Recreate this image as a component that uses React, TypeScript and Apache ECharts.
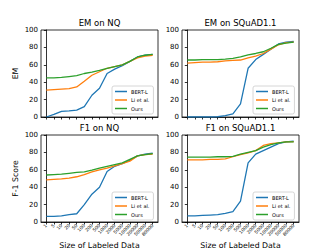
import React, { useEffect, useRef } from "react";
import * as echarts from "echarts";

const xLabels = ["1", "5", "10", "20", "50", "100", "200", "500", "1000", "2000", "5000", "10000", "20000", "50000", "80000"];
const seriesNames = ["BERT-L", "Li et al.", "Ours"];
const panelTitles = ["EM on NQ", "EM on SQuAD1.1", "F1 on NQ", "F1 on SQuAD1.1"];

const emNqBert = [0, 3, 6.5, 7, 8, 12, 25, 33, 50, 55, 59, 64, 69, 71, 72];
const emNqLi = [31, 31.5, 32, 32.5, 34.5, 41, 48, 52, 56, 58, 60, 64, 68, 70, 71];
const emNqOurs = [45, 45, 45.5, 46.5, 47.5, 50, 51.5, 53.5, 56, 58, 60, 64, 69, 71, 72];

const emSqBert = [0, 0, 0, 0, 0.3, 1.5, 3.5, 15, 56, 66, 72, 78, 84, 86, 87];
const emSqLi = [62, 62.5, 63, 63, 63.5, 64.5, 65, 65.5, 68, 70, 73, 78, 83, 85.5, 86];
const emSqOurs = [65.5, 65.5, 66, 66, 66, 66.5, 67.5, 69, 71.5, 73, 75, 79, 83.5, 85, 86];

const f1NqBert = [6.5, 6.5, 7, 8.5, 9.5, 20, 32, 40, 58, 64, 67, 71, 76, 78, 79];
const f1NqLi = [48.5, 49, 49.5, 50.5, 52, 54.5, 57.5, 60, 62, 64.5, 67, 70, 76, 77.5, 78];
const f1NqOurs = [54, 54.5, 55, 56, 57, 57.5, 59.5, 62, 64, 66, 68, 72, 76, 77.5, 78.5];

const f1SqBert = [7, 7, 7.5, 8, 8.5, 10, 12, 24, 68, 78, 82, 86, 90, 92, 93];
const f1SqLi = [71.5, 71.5, 71.5, 72, 72, 72.5, 75, 77.5, 79.5, 82, 88, 90, 91, 92, 92.5];
const f1SqOurs = [74.5, 74.5, 74.5, 74.5, 75, 75, 75.5, 78, 80, 82, 86, 89, 91, 92, 92];

const panelData = [
  [emNqBert, emNqLi, emNqOurs],
  [emSqBert, emSqLi, emSqOurs],
  [f1NqBert, f1NqLi, f1NqOurs],
  [f1SqBert, f1SqLi, f1SqOurs],
];

const colors = ["#1f77b4", "#ff7f0e", "#2ca02c"];
const FONT = "DejaVu Sans";

const grids = [
  { left: 41, top: 30, width: 117, height: 87 },
  { left: 182, top: 30, width: 117, height: 87 },
  { left: 41, top: 135, width: 117, height: 88 },
  { left: 182, top: 135, width: 117, height: 88 },
];

export default function App() {
  const ref = useRef<HTMLDivElement>(null);
  useEffect(() => {
    if (!ref.current) return;
    const chart = echarts.init(ref.current, null, { renderer: "svg" });
    const idx = xLabels.map((_, i) => i);
    const option: any = {
      animation: false,
      textStyle: { fontFamily: FONT },
      title: panelTitles.map((t, i) => ({
        text: t,
        left: grids[i].left + grids[i].width / 2,
        top: i < 2 ? 18.5 : 123.5,
        padding: 0,
        textAlign: "center",
        textStyle: { fontFamily: FONT, fontSize: 8.5, fontWeight: "normal", color: "#000" },
      })),
      grid: grids.map((g) => ({ ...g, show: true, borderColor: "#000", borderWidth: 0.8, containLabel: false })),
      legend: grids.map((g) => ({
        data: seriesNames,
        orient: "vertical",
        left: g.left + g.width - 46,
        top: g.top + g.height - 31,
        icon: "rect",
        itemWidth: 12,
        itemHeight: 1.5,
        itemGap: 3.5,
        padding: [3, 4, 3, 3],
        borderColor: "#ccc",
        borderWidth: 0.8,
        borderRadius: 2,
        backgroundColor: "rgba(255,255,255,0.8)",
        textStyle: { fontFamily: FONT, fontSize: 5, color: "#000", padding: [0, 0, 0, -1] },
      })),
      xAxis: grids.map((_, i) => ({
        type: "value",
        gridIndex: i,
        min: -0.7,
        max: 14.7,
        splitLine: { show: false },
        axisLine: { show: true, lineStyle: { color: "#000", width: 0.8 } },
        axisTick: { show: true, customValues: idx, length: 2.5, lineStyle: { color: "#000", width: 0.8 } },
        axisLabel: {
          show: i >= 2,
          customValues: idx,
          formatter: (v: number) => xLabels[Math.round(v)] ?? "",
          rotate: 45,
          fontSize: 4.5,
          color: "#000",
          margin: 3,
          fontFamily: FONT,
        },
        name: i >= 2 ? "Size of Labeled Data" : "",
        nameLocation: "middle",
        nameGap: 19,
        nameTextStyle: { fontFamily: FONT, fontSize: 7.8, color: "#000" },
      })),
      yAxis: grids.map((_, i) => ({
        type: "value",
        gridIndex: i,
        min: 0,
        max: 100,
        interval: 20,
        splitLine: { show: false },
        axisLine: { show: true, lineStyle: { color: "#000", width: 0.8 } },
        axisTick: { show: true, length: 2.5, lineStyle: { color: "#000", width: 0.8 } },
        axisLabel: { fontSize: 7, color: "#000", margin: 3, fontFamily: FONT },
        name: i === 0 ? "EM" : i === 2 ? "F-1 Score" : "",
        nameLocation: "middle",
        nameGap: 22,
        nameTextStyle: { fontFamily: FONT, fontSize: 7.8, color: "#000" },
      })),
      series: panelData.flatMap((arrs, p) =>
        arrs.map((vals, s) => ({
          type: "line",
          name: seriesNames[s],
          xAxisIndex: p,
          yAxisIndex: p,
          data: vals.map((v, k) => [k, v]),
          symbol: "none",
          lineStyle: { color: colors[s], width: 1.3 },
          itemStyle: { color: colors[s] },
          z: 2 + s,
        }))
      ),
    };
    chart.setOption(option);
    return () => chart.dispose();
  }, []);
  return (
    <div
      ref={ref}
      style={{ position: "fixed", left: 0, top: 0, width: 333, height: 250, background: "#fff" }}
    />
  );
}
